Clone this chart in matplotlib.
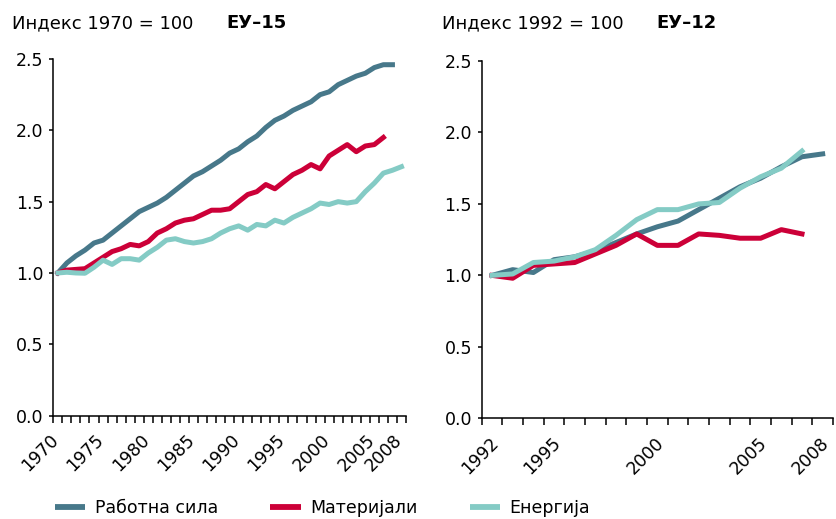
import numpy as np
import matplotlib
matplotlib.use("Agg")
import matplotlib.pyplot as plt
from matplotlib.lines import Line2D

plt.rcParams['font.family'] = ['DejaVu Sans']

# ---- data: EU-15 (index 1970 = 1.0) ----
years_l = list(range(1970, 2009))
labour_l = [1.00, 1.07, 1.12, 1.16, 1.21, 1.23, 1.28, 1.33, 1.38, 1.43, 1.46, 1.49,
            1.53, 1.58, 1.63, 1.68, 1.71, 1.75, 1.79, 1.84, 1.87, 1.92, 1.96, 2.02,
            2.07, 2.10, 2.14, 2.17, 2.20, 2.25, 2.27, 2.32, 2.35, 2.38, 2.40, 2.44,
            2.46, 2.46]
materials_l = [1.00, 1.02, 1.025, 1.03, 1.07, 1.11, 1.15, 1.17, 1.20, 1.19, 1.22, 1.28,
               1.31, 1.35, 1.37, 1.38, 1.41, 1.44, 1.44, 1.45, 1.50, 1.55, 1.57, 1.62,
               1.59, 1.64, 1.69, 1.72, 1.76, 1.73, 1.82, 1.86, 1.90, 1.85, 1.89, 1.90,
               1.95]
energy_l = [1.00, 1.005, 1.00, 0.998, 1.04, 1.09, 1.06, 1.10, 1.10, 1.09, 1.14, 1.18,
            1.23, 1.24, 1.22, 1.21, 1.22, 1.24, 1.28, 1.31, 1.33, 1.30, 1.34, 1.33,
            1.37, 1.35, 1.39, 1.42, 1.45, 1.49, 1.48, 1.50, 1.49, 1.50, 1.57, 1.63,
            1.70, 1.72, 1.745]
ticklabels_l = [1970, 1975, 1980, 1985, 1990, 1995, 2000, 2005, 2008]

# ---- data: EU-12 (index 1992 = 1.0) ----
years_r = list(range(1992, 2009))
labour_r = [1.00, 1.04, 1.02, 1.11, 1.13, 1.17, 1.23, 1.29, 1.34, 1.38, 1.46, 1.54,
            1.62, 1.68, 1.76, 1.83, 1.85]
materials_r = [1.00, 0.98, 1.07, 1.08, 1.09, 1.15, 1.21, 1.29, 1.21, 1.21, 1.29, 1.28,
               1.26, 1.26, 1.32, 1.29]
energy_r = [1.00, 1.01, 1.09, 1.10, 1.13, 1.18, 1.28, 1.39, 1.46, 1.46, 1.50, 1.51,
            1.61, 1.69, 1.75, 1.87]
ticklabels_r = [1992, 1995, 2000, 2005, 2008]

yticks = [0.0, 0.5, 1.0, 1.5, 2.0, 2.5]
series_names = ['Работна сила', 'Материјали', 'Енергија']
colors = ['#47788A', '#CC0038', '#84CBC5']

W, H = 836, 519
fig = plt.figure(figsize=(W / 100, H / 100), dpi=100)

def px_axes(x0, x1, y_top, y_bot):
    return fig.add_axes([x0 / W, (H - y_bot) / H, (x1 - x0) / W, (y_bot - y_top) / H])

ax_l = px_axes(53.3, 406, 59, 415.6)
ax_r = px_axes(481.7, 833, 61, 418.3)

LW = 3.6
TICKFS = 12.5

def style(ax, years, labels):
    lo, hi = years[0] - 0.5, years[-1] + 0.5
    ax.set_xlim(lo, hi)
    ax.set_ylim(0, 2.5)
    for s in ['top', 'right']:
        ax.spines[s].set_visible(False)
    for s in ['left', 'bottom']:
        ax.spines[s].set_linewidth(1.1)
    ax.set_yticks(yticks)
    ax.set_yticklabels([f"{v:.1f}" for v in yticks], fontsize=TICKFS)
    ax.tick_params(axis='y', length=3, width=1.1, pad=4, direction='out')
    ax.xaxis.remove_overlapping_locs = False
    ax.set_xticks(np.arange(lo, hi + 0.01, 1.0))
    ax.set_xticklabels([])
    ax.tick_params(axis='x', which='major', length=5, width=1.1, direction='out')
    ax.set_xticks([y + 0.5 for y in labels], [str(y) for y in labels], minor=True)
    ax.tick_params(axis='x', which='minor', length=0, pad=11)
    for t in ax.get_xticklabels(minor=True):
        t.set_rotation(45)
        t.set_ha('right')
        t.set_va('top')
        t.set_fontsize(TICKFS)

for ax, yrs, data, labs in [
    (ax_l, years_l, [labour_l, materials_l, energy_l], ticklabels_l),
    (ax_r, years_r, [labour_r, materials_r, energy_r], ticklabels_r),
]:
    for vals, c in zip(data, colors):
        ax.plot(yrs[:len(vals)], vals, color=c, lw=LW, solid_joinstyle='round',
                solid_capstyle='projecting')
    style(ax, yrs, labs)

TITLEFS = 13
ytit = 1 - 28.5 / H
fig.text(12 / W, ytit, 'Индекс 1970 = 100', fontsize=TITLEFS, va='baseline')
fig.text(226 / W, ytit, 'ЕУ–15', fontsize=TITLEFS, fontweight='bold', va='baseline')
fig.text(442 / W, ytit, 'Индекс 1992 = 100', fontsize=TITLEFS, va='baseline')
fig.text(656 / W, ytit, 'ЕУ–12', fontsize=TITLEFS, fontweight='bold', va='baseline')

handles = [Line2D([0], [0], color=c, lw=LW + 0.6, solid_capstyle='butt') for c in colors]
fig.legend(handles, series_names, loc='center left', bbox_to_anchor=(55 / W, 1 - 508 / H),
           ncol=3, frameon=False, fontsize=12.5, handlelength=1.75, handletextpad=0.55,
           columnspacing=3.0, borderpad=0, borderaxespad=0)

fig.savefig('out.png', dpi=100)
